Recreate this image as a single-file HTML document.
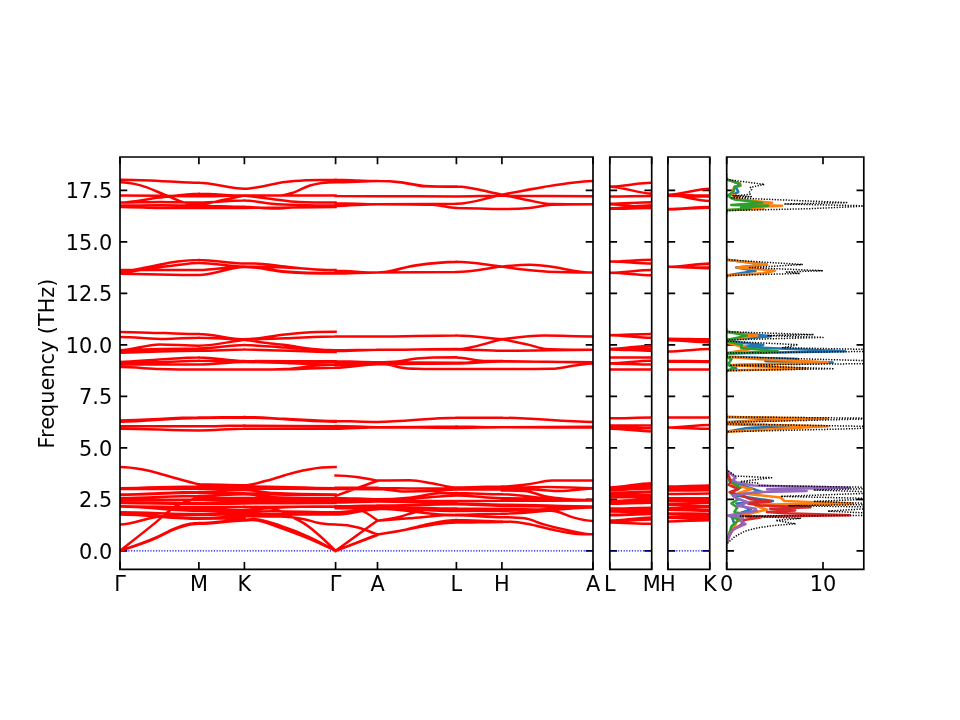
<!DOCTYPE html>
<html lang="en"><head><meta charset="utf-8"><title>Phonon band structure</title>
<style>html,body{margin:0;padding:0;background:#fff}svg{display:block}</style></head>
<body>
<svg width="960" height="720" viewBox="0 0 960 720">
<defs>
<clipPath id="c1"><rect x="120.0" y="157.0" width="473.0" height="412.4"/></clipPath>
<clipPath id="c2"><rect x="609.8" y="157.0" width="41.90000000000009" height="412.4"/></clipPath>
<clipPath id="c3"><rect x="667.9" y="157.0" width="41.85000000000002" height="412.4"/></clipPath>
<clipPath id="c4"><rect x="726.7" y="157.0" width="137.0999999999999" height="412.4"/></clipPath>
</defs>
<rect width="960" height="720" fill="#fff"/>
<path d="M120.0 550.8h7.3M593.0 550.8h-7.3M120.0 499.3h7.3M593.0 499.3h-7.3M120.0 447.8h7.3M593.0 447.8h-7.3M120.0 396.3h7.3M593.0 396.3h-7.3M120.0 344.9h7.3M593.0 344.9h-7.3M120.0 293.4h7.3M593.0 293.4h-7.3M120.0 241.9h7.3M593.0 241.9h-7.3M120.0 190.4h7.3M593.0 190.4h-7.3M609.8 550.8h7.3M651.7 550.8h-7.3M609.8 499.3h7.3M651.7 499.3h-7.3M609.8 447.8h7.3M651.7 447.8h-7.3M609.8 396.3h7.3M651.7 396.3h-7.3M609.8 344.9h7.3M651.7 344.9h-7.3M609.8 293.4h7.3M651.7 293.4h-7.3M609.8 241.9h7.3M651.7 241.9h-7.3M609.8 190.4h7.3M651.7 190.4h-7.3M667.9 550.8h7.3M709.75 550.8h-7.3M667.9 499.3h7.3M709.75 499.3h-7.3M667.9 447.8h7.3M709.75 447.8h-7.3M667.9 396.3h7.3M709.75 396.3h-7.3M667.9 344.9h7.3M709.75 344.9h-7.3M667.9 293.4h7.3M709.75 293.4h-7.3M667.9 241.9h7.3M709.75 241.9h-7.3M667.9 190.4h7.3M709.75 190.4h-7.3M726.7 550.8h7.3M863.8 550.8h-7.3M726.7 499.3h7.3M863.8 499.3h-7.3M726.7 447.8h7.3M863.8 447.8h-7.3M726.7 396.3h7.3M863.8 396.3h-7.3M726.7 344.9h7.3M863.8 344.9h-7.3M726.7 293.4h7.3M863.8 293.4h-7.3M726.7 241.9h7.3M863.8 241.9h-7.3M726.7 190.4h7.3M863.8 190.4h-7.3M120 569.4v-7.3M120 157.0v7.3M198.9 569.4v-7.3M198.9 157.0v7.3M244.4 569.4v-7.3M244.4 157.0v7.3M335.6 569.4v-7.3M335.6 157.0v7.3M377.5 569.4v-7.3M377.5 157.0v7.3M456.4 569.4v-7.3M456.4 157.0v7.3M501.9 569.4v-7.3M501.9 157.0v7.3M593 569.4v-7.3M593 157.0v7.3M609.8 569.4v-7.3M609.8 157.0v7.3M651.7 569.4v-7.3M651.7 157.0v7.3M667.9 569.4v-7.3M667.9 157.0v7.3M709.8 569.4v-7.3M709.8 157.0v7.3M726.7 569.4v-7.3M726.7 157.0v7.3M823 569.4v-7.3M823 157.0v7.3" stroke="#000" stroke-width="1.67" fill="none"/>
<path d="M120.0 550.8H593.0M609.8 550.8H651.7M667.9 550.8H709.75" stroke="#0000ff" stroke-width="1.3" stroke-dasharray="1.2 1.56" fill="none"/>
<path clip-path="url(#c1)" d="M120 179.7C133.2 179.7 146.3 180.4 159.4 180.9C172.6 181.4 185.8 182.8 198.9 182.8M120 182.2C126.6 182.2 133.2 183.4 139.7 185.1C148.1 187.2 156.6 191.6 165 194.9C171 197.3 177.1 200.5 183.1 202.1C188.4 203.6 193.6 204.8 198.9 204.8M120 195.6C133.2 195.6 146.3 195.7 159.4 195.8C172.6 195.9 185.8 196.2 198.9 196.2M120 202.6C133.2 202.6 146.3 199.1 159.4 197.6C172.6 196.1 185.8 193.7 198.9 193.7M120 202.6C133.2 202.6 146.3 202.1 159.4 202.1C172.6 202.1 185.8 202.6 198.9 202.6M120 205.6C133.2 205.6 146.3 205.2 159.4 205.2C172.6 205.2 185.8 205.6 198.9 205.6M120 206.9C133.2 206.9 146.3 207.7 159.4 207.9C172.6 208.1 185.8 208.1 198.9 208.1M120 272.4C130.8 270.3 141.6 268.2 152.3 266.2C160.8 264.6 169.2 262.5 177.6 261.5C184.7 260.6 191.8 260 198.9 260M120 273.4C130.8 271.6 141.6 269.8 152.3 268.3C160.8 267 169.2 265.9 177.6 265C184.7 264.2 191.8 263.1 198.9 263.1M120 270.1C146.3 270.1 172.6 270.1 198.9 270.1M120 273.8C146.3 273.8 172.6 275 198.9 275M120 332.1C135 332.1 150 332.8 165 333.1C176.3 333.4 187.6 333.9 198.9 333.9M120 337C135 337 150 338.9 165 338.9C176.3 338.9 187.6 337.7 198.9 337.7M120 350.2C133.2 350.2 146.3 344.4 159.4 344.4C172.6 344.4 185.8 345.7 198.9 345.7M120 350.2C133.2 350.2 146.3 349.3 159.4 349C172.6 348.7 185.8 348.4 198.9 348.4M120 352.7C133.2 352.7 146.3 351.8 159.4 351.5C172.6 351.1 185.8 350.8 198.9 350.8M120 362C133.2 362 146.3 360.2 159.4 359.5C172.6 358.8 185.8 357.6 198.9 357.6M120 362.4C133.2 362.4 146.3 362.4 159.4 362.2C172.6 362 185.8 360.7 198.9 360.7M120 364.4C133.2 364.4 146.3 364.6 159.4 364.6C172.6 364.6 185.8 364.4 198.9 364.4M120 367.1C133.2 367.1 146.3 368.5 159.4 369C172.6 369.4 185.8 369.6 198.9 369.6M120 420.4C146.3 420.4 172.6 417.6 198.9 417.6M120 421.7C146.3 421.7 172.6 418 198.9 418M120 426.2C146.3 426.2 172.6 426.2 198.9 426.2M120 428.7C146.3 428.7 172.6 430.5 198.9 430.5M120 467C127.6 467 135.3 468.1 142.9 469.5C152.1 471.1 161.3 474.2 170.5 476.7C177.9 478.7 185.2 481.1 192.6 482.8C194.7 483.3 196.8 484.3 198.9 484.3M120 488.2C146.3 488.2 172.6 486.5 198.9 486.5M120 489C146.3 489 172.6 488.8 198.9 488.8M120 494.4C146.3 494.4 172.6 491.9 198.9 491.9M120 494.8C146.3 494.8 172.6 492.7 198.9 492.7M120 498.1C146.3 498.1 172.6 496 198.9 496M120 499.9C146.3 499.9 172.6 499.7 198.9 499.7M120 501.8C146.3 501.8 172.6 503 198.9 503M120 503C146.3 503 172.6 504.1 198.9 504.1M120 506.3C146.3 506.3 172.6 507.3 198.9 507.3M120 506.5C146.3 506.5 172.6 509.2 198.9 509.2M120 506.5C146.3 506.5 172.6 510.8 198.9 510.8M120 512.3C146.3 512.3 172.6 514.1 198.9 514.1M120 513.7C146.3 513.7 172.6 518.1 198.9 518.1M120 514.6C146.3 514.6 172.6 518.7 198.9 518.7M120 524.6C132.1 524.6 144.2 518.7 156.3 517C170.5 515.1 184.7 514.8 198.9 514.8M120 550.8C131.8 541.5 143.7 532.2 155.5 522.6C161.8 517.5 168.1 511.1 174.4 507.1C180.5 503.4 186.5 501 192.6 499.3C194.7 498.7 196.8 497.9 198.9 497.9M120 550.8C132.2 547 144.5 543.2 156.7 537.8C162.6 535.2 168.5 531.6 174.4 529.4C179.7 527.4 185 525.5 190.2 524.6C193.1 524.2 196 523.8 198.9 523.8M120 550.8C132.2 546.8 144.5 542.7 156.7 537.2C162.6 534.6 168.5 530.9 174.4 528.6C179.7 526.5 185 524.7 190.2 523.8C193.1 523.3 196 523 198.9 523M198.9 182.8C214.1 182.8 229.3 188.8 244.4 188.8M198.9 193.7C214.1 193.7 229.3 195.6 244.4 195.6M198.9 196.2C214.1 196.2 229.3 195.6 244.4 195.6M198.9 204.8C206.5 204.8 214.1 201.8 221.7 200.3C229.3 198.7 236.9 197.1 244.4 195.6M198.9 202.6C214.1 202.6 229.3 200.5 244.4 200.5M198.9 205.6C214.1 205.6 229.3 206.7 244.4 206.7M198.9 208.1C214.1 208.1 229.3 207.9 244.4 207.9M198.9 260C214.1 260 229.3 263.5 244.4 263.5M198.9 263.1C214.1 263.1 229.3 266.6 244.4 266.6M198.9 270.1C214.1 270.1 229.3 266.6 244.4 266.6M198.9 275C214.1 275 229.3 267 244.4 267M198.9 333.9C214.1 333.9 229.3 339.3 244.4 339.3M198.9 337.7C214.1 337.7 229.3 339.5 244.4 339.5M198.9 345.7C214.1 345.7 229.3 341.7 244.4 339.7M198.9 348.4C214.1 348.4 229.3 345.1 244.4 345.1M198.9 350.8C214.1 350.8 229.3 349.6 244.4 349.6M198.9 357.6C214.1 357.6 229.3 361.1 244.4 361.1M198.9 360.7C214.1 360.7 229.3 361.5 244.4 361.5M198.9 364.4C214.1 364.4 229.3 362 244.4 362M198.9 369.6C214.1 369.6 229.3 369.6 244.4 369.6M198.9 417.6C214.1 417.6 229.3 417.1 244.4 417.1M198.9 418C214.1 418 229.3 417.6 244.4 417.6M198.9 426.2C214.1 426.2 229.3 425.6 244.4 425.6M198.9 430.5C214.1 430.5 229.3 428.7 244.4 428.7M198.9 484.3C214.1 484.3 229.3 485.3 244.4 485.3M198.9 486.5C214.1 486.5 229.3 486.5 244.4 486.5M198.9 488.8C214.1 488.8 229.3 488.4 244.4 488.4M198.9 491.9C214.1 491.9 229.3 490 244.4 490M198.9 492.7C214.1 492.7 229.3 493.3 244.4 493.3M198.9 496C214.1 496 229.3 494.2 244.4 494.2M198.9 497.9C214.1 497.9 229.3 497.9 244.4 497.9M198.9 499.7C214.1 499.7 229.3 499.7 244.4 499.7M198.9 503C214.1 503 229.3 501.6 244.4 501.6M198.9 504.1C214.1 504.1 229.3 503.4 244.4 503.4M198.9 507.3C214.1 507.3 229.3 506.7 244.4 506.7M198.9 509.2C214.1 509.2 229.3 507.1 244.4 507.1M198.9 510.8C214.1 510.8 229.3 510 244.4 510M198.9 514.1C214.1 514.1 229.3 512.1 244.4 512.1M198.9 514.8C214.1 514.8 229.3 514.1 244.4 514.1M198.9 518.1C214.1 518.1 229.3 516.2 244.4 516.2M198.9 518.7C214.1 518.7 229.3 518.3 244.4 518.3M198.9 523C214.1 523 229.3 519.9 244.4 519.9M198.9 523.8C214.1 523.8 229.3 520.5 244.4 520.5M244.4 188.8C251.1 188.8 257.8 187 264.5 185.9C271.3 184.7 278.2 182.9 285 182C301.8 179.7 318.7 179.7 335.6 179.7M244.4 195.6C256.6 195.6 268.7 195.6 280.9 195.6C285.4 195.6 290 193.6 294.6 192.1C299.7 190.3 304.9 187.1 310 185.5C318.6 182.8 327.1 182.2 335.6 182.2M244.4 195.6C274.8 195.6 305.2 195.6 335.6 195.6M244.4 195.6C253.6 196.8 262.7 198 271.8 199.1C280.9 200.2 290 201.8 299.1 202.1C311.3 202.6 323.4 202.6 335.6 202.6M244.4 200.5C253.6 200.5 262.7 203 271.8 203.8C293 205.6 314.3 205.6 335.6 205.6M244.4 206.7C253.6 206.7 262.7 208.5 271.8 208.5C280.9 208.5 290 207.3 299.1 206.9C311.3 206.3 323.4 205.6 335.6 205.6M244.4 207.9C274.8 207.9 305.2 206.9 335.6 206.9M244.4 263.5C250.5 263.5 256.6 263.5 262.7 263.9C270.3 264.4 277.9 265.8 285.4 266.6C302.2 268.3 318.9 270.1 335.6 270.1M244.4 266.6C258.1 266.6 271.8 266.9 285.4 267.4C302.2 268 318.9 270.3 335.6 270.3M244.4 266.6C258.1 266.6 271.8 270.4 285.4 271.5C302.2 272.9 318.9 273.2 335.6 273.2M244.4 267C258.1 267 271.8 270.8 285.4 272C302.2 273.3 318.9 273.6 335.6 273.6M244.4 339.3C258.1 339.3 271.8 335.6 285.4 334.4C296.1 333.4 306.7 332.5 317.3 332.1C323.4 331.8 329.5 331.7 335.6 331.7M244.4 339.5C258.1 339.5 271.8 338.7 285.4 338.3C302.2 337.7 318.9 336.4 335.6 336.4M244.4 339.7C250.5 340.6 256.6 341.6 262.7 342.4C270.3 343.4 277.9 344.1 285.4 345.1C294.6 346.2 303.7 348.1 312.8 349C320.4 349.7 328 350.2 335.6 350.2M244.4 345.1C258.1 345.1 271.8 346.8 285.4 347.5C302.2 348.5 318.9 350.2 335.6 350.2M244.4 349.6C274.8 349.6 305.2 352.1 335.6 352.1M244.4 361.1C274.8 361.1 305.2 361.3 335.6 361.3M244.4 361.5C274.8 361.5 305.2 361.7 335.6 361.7M244.4 362C274.8 362 305.2 364.4 335.6 364.4M244.4 369.6C258.1 369.6 271.8 369.6 285.4 369C296.1 368.5 306.7 366.3 317.3 365.5C323.4 365 329.5 364.4 335.6 364.4M244.4 369.6C259.6 369.6 274.8 369.5 290 369.2C305.2 368.9 320.4 367.7 335.6 367.7M244.4 417.1C258 417.1 271.5 418.2 285 418.8C301.8 419.5 318.7 421.1 335.6 421.1M244.4 417.6C258 417.6 271.5 418.6 285 419.2C301.8 420 318.7 421.7 335.6 421.7M244.4 425.6C274.8 425.6 305.2 426.2 335.6 426.2M244.4 428.7C274.8 428.7 305.2 428.7 335.6 428.7M244.4 485.3C251.7 485.3 259 482.6 266.3 480.8C275.7 478.5 285.1 474.8 294.6 472.5C303.7 470.4 312.8 468.4 321.9 467.6C326.4 467.2 331 467 335.6 467M244.4 486.5C274.8 486.5 305.2 488.2 335.6 488.2M244.4 488.4C274.8 488.4 305.2 489 335.6 489M244.4 497.9C274.8 497.9 305.2 498.1 335.6 498.1M244.4 499.7C274.8 499.7 305.2 499.9 335.6 499.9M244.4 501.6C274.8 501.6 305.2 501.8 335.6 501.8M244.4 503.4C274.8 503.4 305.2 503 335.6 503M244.4 507.1C274.8 507.1 305.2 506.3 335.6 506.3M244.4 514.1C274.8 514.1 305.2 514.6 335.6 514.6M244.4 490C254.5 490 264.5 492.5 274.5 493.1C294.9 494.4 315.2 494.4 335.6 494.4M244.4 493.3C254.5 493.3 264.5 494.2 274.5 494.4C294.9 494.8 315.2 494.8 335.6 494.8M244.4 494.2C254.5 494.2 264.5 496.8 274.5 497.3C294.9 498.1 315.2 498.1 335.6 498.1M244.4 510C253.6 510 262.7 508.5 271.8 508C293 506.7 314.3 506.5 335.6 506.5M244.4 512.1C253.6 512.1 262.7 511.3 271.8 511.3C293 511.3 314.3 512.3 335.6 512.3M244.4 516.2C256.6 516.2 268.7 516.2 280.9 516.6C288.2 516.9 295.5 517.6 302.8 518.9C309.1 520 315.5 522.7 321.9 523.6C326.4 524.3 331 524.6 335.6 524.6M244.4 506.7C253.6 506.7 262.7 506.7 271.8 508.6C275.4 509.3 279.1 510.5 282.7 512.1C285.8 513.4 288.8 515.4 291.8 517C295.5 518.9 299.1 520.4 302.8 522.6C313.7 529.1 324.6 540 335.6 550.8M244.4 520.5C247.2 520.5 249.9 519.9 252.6 519.9C262.1 519.9 271.5 525 280.9 528.1C290 531.2 299.1 534.7 308.2 538.4C317.3 542.2 326.4 546.5 335.6 550.8M244.4 519.9C247.2 519.9 249.9 518.9 252.6 518.9C262.1 518.9 271.5 522.9 280.9 525.9C290 528.8 299.1 532.4 308.2 536.6C317.3 540.7 326.4 545.8 335.6 550.8M335.6 179.7C349.5 179.7 363.5 181.1 377.5 181.1M335.6 182.2C349.5 182.2 363.5 181.1 377.5 181.1M335.6 196C349.5 196 363.5 196.2 377.5 196.2M335.6 203.2C349.5 203.2 363.5 204.2 377.5 204.2M335.6 205.9C349.5 205.9 363.5 204.2 377.5 204.2M335.6 270.7C349.5 270.7 363.5 272.6 377.5 272.6M335.6 273.6C349.5 273.6 363.5 272.6 377.5 272.6M335.6 336.4C349.5 336.4 363.5 336.4 377.5 336.4M335.6 350.2C349.5 350.2 363.5 349.8 377.5 349.8M335.6 351C349.5 351 363.5 349.8 377.5 349.8M335.6 361.3C349.5 361.3 363.5 362.2 377.5 362.2M335.6 362.8C349.5 362.8 363.5 362.2 377.5 362.2M335.6 365C349.5 365 363.5 364.2 377.5 364.2M335.6 367.7C349.5 367.7 363.5 364.2 377.5 364.2M335.6 421.1C349.5 421.1 363.5 421.9 377.5 421.9M335.6 426C349.5 426 363.5 427.2 377.5 427.2M335.6 428.7C349.5 428.7 363.5 427.2 377.5 427.2M335.6 475.6C342.5 475.6 349.5 476.2 356.5 477.1C363.5 477.9 370.5 479.4 377.5 480.8M335.6 496C349.5 490.9 363.5 485.9 377.5 480.8M335.6 487.8C349.5 487.8 363.5 487.8 377.5 487.8M335.6 489C349.5 489 363.5 489.2 377.5 489.2M335.6 497.9C349.5 497.9 363.5 499.3 377.5 499.3M335.6 499.7C349.5 499.7 363.5 499.9 377.5 499.9M335.6 501.4C349.5 501.4 363.5 500.6 377.5 500.6M335.6 502.6C349.5 502.6 363.5 501.4 377.5 501.4M335.6 506.3C349.5 506.3 363.5 505.5 377.5 505.5M335.6 507.6C349.5 507.6 363.5 506.9 377.5 506.9M335.6 508.2C349.5 508.2 363.5 508 377.5 508M335.6 512.3C349.5 512.3 363.5 508.8 377.5 508.8M335.6 514.6C349.5 514.6 363.5 509.2 377.5 509.2M335.6 507.6C343.4 507.6 351.2 507.6 359 509.6C365.2 511.2 371.3 515.9 377.5 520.5M335.6 524.6C343.4 524.6 351.2 525.6 359 527.7C365.2 529.4 371.3 532.1 377.5 534.7M335.6 550.8C349.5 540.7 363.5 530.6 377.5 520.5M335.6 550.8C349.5 545.6 363.5 540.4 377.5 535.1M335.6 550.8C349.5 545.3 363.5 539.8 377.5 534.3M377.5 181.1C385.3 181.1 393.2 181.4 401.1 182.2C409 183 416.9 185.4 424.8 185.9C435.3 186.5 445.8 186.5 456.4 186.5M377.5 181.1C385.3 181.1 393.2 181.5 401.1 182.4C409 183.2 416.9 186 424.8 186.3C435.3 186.7 445.8 186.7 456.4 186.7M377.5 196.2C403.8 196.2 430.1 196.4 456.4 196.4M377.5 204.2C395.9 204.2 414.3 204.1 432.7 204C440.6 203.9 448.5 203.8 456.4 203.8M377.5 204.2C395.9 204.2 414.3 204.2 432.7 204.8C440.6 205.1 448.5 207.9 456.4 207.9M377.5 272.6C389.8 272.6 402.2 267.2 414.5 265.4C428.5 263.4 442.4 261.7 456.4 261.7M377.5 272.6C389.8 272.6 402.2 267.5 414.5 265.8C428.5 263.8 442.4 262.1 456.4 262.1M377.5 272.6C403.8 272.6 430.1 272 456.4 272M377.5 336.4C403.8 336.4 430.1 335.4 456.4 335.4M377.5 349.8C403.8 349.8 430.1 349 456.4 349M377.5 349.8C403.8 349.8 430.1 349.4 456.4 349.4M377.5 362.2C384 362.2 390.6 362.2 397.2 361.5C403.8 360.9 410.3 359.1 416.9 358.5C430.1 357.2 443.2 357.2 456.4 357.2M377.5 362.2C403.8 362.2 430.1 362.8 456.4 362.8M377.5 363.4C381.4 363.4 385.3 364.1 389.3 364.8C393 365.5 396.7 366.9 400.3 367.5C405.9 368.5 411.4 368.7 416.9 368.7C430.1 369 443.2 369 456.4 369M377.5 364.2C403.8 364.2 430.1 363.4 456.4 363.4M377.5 421.9C403.8 421.9 430.1 417.8 456.4 417.8M377.5 427.2C403.8 427.2 430.1 426.6 456.4 426.6M377.5 427.2C403.8 427.2 430.1 427.9 456.4 427.9M377.5 480.6C388.2 480.4 399 480.2 409.8 480.2C417.2 480.2 424.5 482.1 431.9 483.3C440.1 484.5 448.2 487.4 456.4 487.4M377.5 488C390.6 488 403.8 488.4 416.9 488.4C430.1 488.4 443.2 488.4 456.4 488.4M377.5 489C386.7 489 395.9 491.5 405.1 491.5C414.3 491.5 423.5 491.4 432.7 491.1C440.6 490.8 448.5 489.6 456.4 489.6M377.5 499.3C388 499.3 398.5 498.7 409 497.7C419 496.7 429 493.7 439 493.3C444.8 493.1 450.6 493.1 456.4 493.1M377.5 499.9C390.6 499.9 403.8 499 416.9 498.3C430.1 497.5 443.2 495.4 456.4 495.4M377.5 500.6C403.8 500.6 430.1 501 456.4 501M377.5 501.4C403.8 501.4 430.1 503.4 456.4 503.4M377.5 505.5C403.8 505.5 430.1 504.3 456.4 504.3M377.5 506.9C403.8 506.9 430.1 508.6 456.4 508.6M377.5 508C403.8 508 430.1 511.1 456.4 511.1M377.5 508.8C403.8 508.8 430.1 515.2 456.4 515.2M377.5 520.7C385.1 519.7 392.7 518.6 400.3 516.6C404.5 515.5 408.8 513.8 413 512.7C416.9 511.6 420.9 510.6 424.8 510C435.3 508.6 445.8 508.6 456.4 508.6M377.5 520.7C388 519.9 398.5 519.1 409 518.3C424.8 517.1 440.6 514.8 456.4 514.8M377.5 534.5C385.1 533.4 392.7 532.4 400.3 530.8C408.5 529.2 416.6 526.6 424.8 524.9C432.2 523.3 439.5 521.6 446.9 520.7C450 520.4 453.2 519.9 456.4 519.9M377.5 534.5C385.1 533.4 392.7 532.2 400.3 530.8C408.5 529.4 416.6 527.4 424.8 526.1C435.3 524.4 445.8 522.6 456.4 522.6M456.4 186.5C471.5 186.5 486.7 192 501.9 194.7M456.4 196.4C471.5 196.4 486.7 195.8 501.9 195.8M456.4 203.8C471.5 203.8 486.7 197.8 501.9 194.7M456.4 207.9C471.5 207.9 486.7 209.1 501.9 209.1M456.4 261.7C471.5 261.7 486.7 265 501.9 266.6M456.4 272C471.5 272 486.7 268.4 501.9 266.6M456.4 335.4C471.5 335.4 486.7 338 501.9 339.3M456.4 349.2C471.5 349.2 486.7 342.6 501.9 339.3M456.4 349.4C471.5 349.4 486.7 350.8 501.9 350.8M456.4 357.4C465.5 357.4 474.6 360.6 483.7 360.9C489.8 361.1 495.8 361.1 501.9 361.1M456.4 362.8C471.5 362.8 486.7 361.1 501.9 361.1M456.4 369C471.5 369 486.7 369 501.9 369M456.4 363.4C471.5 363.4 486.7 361.5 501.9 361.5M456.4 417.8C471.5 417.8 486.7 417.8 501.9 417.8M456.4 426.6C471.5 426.6 486.7 427.2 501.9 427.2M456.4 427.9C471.5 427.9 486.7 427.2 501.9 427.2M456.4 487.4C471.5 487.4 486.7 486.5 501.9 486.5M456.4 488.4C471.5 488.4 486.7 487.8 501.9 487.8M456.4 489.6C471.5 489.6 486.7 489.4 501.9 489.4M456.4 493.1C471.5 493.1 486.7 494.2 501.9 494.2M456.4 495.4C471.5 495.4 486.7 498.3 501.9 498.3M456.4 501C471.5 501 486.7 500.8 501.9 500.8M456.4 503.4C471.5 503.4 486.7 504.7 501.9 504.7M456.4 504.3C471.5 504.3 486.7 505.9 501.9 505.9M456.4 508.6C471.5 508.6 486.7 509 501.9 509M456.4 511.1C471.5 511.1 486.7 510.8 501.9 510.8M456.4 514.8C471.5 514.8 486.7 513.7 501.9 513.7M456.4 515.2C471.5 515.2 486.7 517.2 501.9 517.2M456.4 519.9C471.5 519.9 486.7 521.4 501.9 521.4M456.4 522.6C471.5 522.6 486.7 522 501.9 522M501.9 194.7C515.9 191.9 529.8 189.1 543.8 186.9C554.1 185.3 564.5 183.6 574.8 182.6C580.9 182 586.9 181.1 593 181.1M501.9 194.7C510.7 196.7 519.5 198.7 528.3 200.3C536.1 201.7 543.8 203.9 551.5 204C565.4 204.2 579.2 204.2 593 204.2M501.9 195.8C532.3 195.8 562.6 196.2 593 196.2M501.9 209.1C511 209.1 520.1 208.8 529.2 207.9C536.7 207.2 544.1 205.2 551.5 204.8C565.4 204.2 579.2 204.2 593 204.2M501.9 266.6C511.3 265.7 520.7 264.7 530.1 264.7C538.9 264.7 547.8 266 556.6 267.4C562 268.3 567.5 269.9 573 270.7C579.6 271.7 586.3 272.6 593 272.6M501.9 266.6C511.3 268 520.7 269.4 530.1 270.3C536.2 270.9 542.3 271.4 548.4 271.8C563.2 272.6 578.1 272.6 593 272.6M501.9 339.3C515.9 337.4 529.8 335.6 543.8 335.6C560.2 335.6 576.6 336.4 593 336.4M501.9 339.3C511 341 520.1 342.7 529.2 344.9C534.7 346.1 540.2 348.7 545.6 349C561.4 349.8 577.2 349.8 593 349.8M501.9 350.8C532.3 350.8 562.6 349.8 593 349.8M501.9 361.1C532.3 361.1 562.6 362.6 593 362.6M501.9 361.5C532.3 361.5 562.6 362.2 593 362.2M501.9 369C518.6 369 535.3 369 552 368.7C559.6 368.7 567.2 366.4 574.8 365.5C580.9 364.7 586.9 363.4 593 363.4M501.9 417.8C532.3 417.8 562.6 421.9 593 421.9M501.9 427.2C532.3 427.2 562.6 426.8 593 426.8M501.9 427.2C532.3 427.2 562.6 427.6 593 427.6M501.9 486.5C510.7 486.5 519.5 485.4 528.3 484.3C536.2 483.3 544.1 480.7 552 480.6C565.7 480.4 579.3 480.4 593 480.4M501.9 487.8C517.1 487.8 532.3 487 547.5 487C562.6 487 577.8 488.2 593 488.2M501.9 489.4C512.5 489.4 523.2 489.4 533.8 489.6C541.4 489.8 549 491.1 556.6 491.1C562.6 491.1 568.7 490.5 574.8 490C580.9 489.6 586.9 488.4 593 488.4M501.9 490.5C509.5 490.5 517.1 490.5 524.7 490.9C531.4 491.2 538 494.9 544.7 496.2C551.7 497.6 558.7 498.3 565.7 498.9C574.8 499.7 583.9 499.9 593 499.9M501.9 494.2C517.1 494.2 532.3 497.3 547.5 498.3C562.6 499.3 577.8 500.1 593 500.1M501.9 498.3C532.3 498.3 562.6 500.3 593 500.3M501.9 500.8C532.3 500.8 562.6 500.6 593 500.6M501.9 504.7C532.3 504.7 562.6 506.5 593 506.5M501.9 505.9C532.3 505.9 562.6 506.9 593 506.9M501.9 510.8C532.3 510.8 562.6 507.1 593 507.1M501.9 513.7C532.3 513.7 562.6 507.6 593 507.6M501.9 509C514 509 526.2 509.2 538.3 510C544.7 510.4 551.1 510.1 557.5 511.7C562.6 512.9 567.8 516 573 517.4C579.6 519.3 586.3 520.9 593 520.9M501.9 517.2C509.5 517.2 517.1 517.2 524.7 518.3C531.1 519.1 537.4 522.6 543.8 524.4C551.7 526.7 559.6 528.6 567.5 530.2C576 531.9 584.5 534.3 593 534.3M501.9 521.4C510.7 521.4 519.5 522.5 528.3 524C536.2 525.4 544.1 528 552 529.6C559.6 531.2 567.2 533 574.8 533.7C580.9 534.3 586.9 534.3 593 534.3" fill="none" stroke="#ff0000" stroke-width="2.5" stroke-linecap="square" stroke-linejoin="round"/>
<path clip-path="url(#c2)" d="M609.8 186.5C623.8 186.5 637.7 182.8 651.7 182.8M609.8 186.7C623.8 186.7 637.7 193.5 651.7 193.5M609.8 196.4C623.8 196.4 637.7 196 651.7 196M609.8 203.8C623.8 203.8 637.7 202.3 651.7 202.3M609.8 204.2C623.8 204.2 637.7 207.7 651.7 207.7M609.8 208.3C623.8 208.3 637.7 205.2 651.7 205.2M609.8 208.7C623.8 208.7 637.7 208.1 651.7 208.1M609.8 261.5C623.8 261.5 637.7 259.8 651.7 259.8M609.8 261.5C623.8 261.5 637.7 263.5 651.7 263.5M609.8 272.8C623.8 272.8 637.7 270.1 651.7 270.1M609.8 272.8C623.8 272.8 637.7 275.3 651.7 275.3M609.8 335.2C623.8 335.2 637.7 333.9 651.7 333.9M609.8 335.2C623.8 335.2 637.7 337.7 651.7 337.7M609.8 349C623.8 349 637.7 345.7 651.7 345.7M609.8 349C623.8 349 637.7 348.4 651.7 348.4M609.8 349.4C623.8 349.4 637.7 350.8 651.7 350.8M609.8 357.6C623.8 357.6 637.7 357.6 651.7 357.6M609.8 363.2C623.8 363.2 637.7 360.7 651.7 360.7M609.8 363.4C623.8 363.4 637.7 364.4 651.7 364.4M609.8 369.6C623.8 369.6 637.7 369.6 651.7 369.6M609.8 418.2C623.8 418.2 637.7 417.6 651.7 417.6M609.8 425.6C623.8 425.6 637.7 425.6 651.7 425.6M609.8 427.2C623.8 427.2 637.7 428.3 651.7 428.3M609.8 428.7C623.8 428.7 637.7 431.4 651.7 431.4M609.8 487.4C623.8 487.4 637.7 483.3 651.7 483.3M609.8 488C623.8 488 637.7 485.7 651.7 485.7M609.8 489.6C623.8 489.6 637.7 487.4 651.7 487.4M609.8 490.3C623.8 490.3 637.7 488.4 651.7 488.4M609.8 493.1C623.8 493.1 637.7 491.5 651.7 491.5M609.8 493.5C623.8 493.5 637.7 492.3 651.7 492.3M609.8 495.4C623.8 495.4 637.7 495.2 651.7 495.2M609.8 497.3C623.8 497.3 637.7 497.3 651.7 497.3M609.8 501C623.8 501 637.7 499.3 651.7 499.3M609.8 501.4C623.8 501.4 637.7 500.1 651.7 500.1M609.8 503.4C623.8 503.4 637.7 502.4 651.7 502.4M609.8 503.8C623.8 503.8 637.7 502.8 651.7 502.8M609.8 508.6C623.8 508.6 637.7 507.8 651.7 507.8M609.8 509C623.8 509 637.7 509.2 651.7 509.2M609.8 511.1C623.8 511.1 637.7 511.3 651.7 511.3M609.8 511.5C623.8 511.5 637.7 512.1 651.7 512.1M609.8 514.8C623.8 514.8 637.7 513.7 651.7 513.7M609.8 515.2C623.8 515.2 637.7 514.1 651.7 514.1M609.8 520.5C623.8 520.5 637.7 517.4 651.7 517.4M609.8 521.6C623.8 521.6 637.7 519.5 651.7 519.5M609.8 522.6C623.8 522.6 637.7 523.8 651.7 523.8" fill="none" stroke="#ff0000" stroke-width="2.5" stroke-linecap="square"/>
<path clip-path="url(#c3)" d="M667.9 194.7C681.9 194.7 695.8 188.8 709.8 188.8M667.9 194.9C681.9 194.9 695.8 195.6 709.8 195.6M667.9 195.8C681.9 195.8 695.8 196.6 709.8 196.6M667.9 195.1C681.9 195.1 695.8 200.9 709.8 200.9M667.9 209.1C681.9 209.1 695.8 206.9 709.8 206.9M667.9 209.4C681.9 209.4 695.8 207.7 709.8 207.7M667.9 266.8C681.9 266.8 695.8 263.5 709.8 263.5M667.9 266.8C681.9 266.8 695.8 264.1 709.8 264.1M667.9 266.8C681.9 266.8 695.8 267.6 709.8 267.6M667.9 266.8C681.9 266.8 695.8 268.3 709.8 268.3M667.9 338.7C681.9 338.7 695.8 339.3 709.8 339.3M667.9 339.3C681.9 339.3 695.8 340.7 709.8 340.7M667.9 340.3C681.9 340.3 695.8 342.4 709.8 342.4M667.9 351.5C681.9 351.5 695.8 349 709.8 349M667.9 361.7C681.9 361.7 695.8 362 709.8 362M667.9 360.9C681.9 360.9 695.8 361.3 709.8 361.3M667.9 369.6C681.9 369.6 695.8 369.6 709.8 369.6M667.9 417.6C681.9 417.6 695.8 417.6 709.8 417.6M667.9 427.6C681.9 427.6 695.8 425 709.8 425M667.9 427.6C681.9 427.6 695.8 428.7 709.8 428.7M667.9 486.5C681.9 486.5 695.8 485.5 709.8 485.5M667.9 487.8C681.9 487.8 695.8 487 709.8 487M667.9 489C681.9 489 695.8 488.6 709.8 488.6M667.9 490.5C681.9 490.5 695.8 490.3 709.8 490.3M667.9 494C681.9 494 695.8 493.5 709.8 493.5M667.9 498.3C681.9 498.3 695.8 498.3 709.8 498.3M667.9 499.3C681.9 499.3 695.8 499.7 709.8 499.7M667.9 500.8C681.9 500.8 695.8 501.4 709.8 501.4M667.9 503.8C681.9 503.8 695.8 503 709.8 503M667.9 505.1C681.9 505.1 695.8 506.3 709.8 506.3M667.9 508.2C681.9 508.2 695.8 507.1 709.8 507.1M667.9 509C681.9 509 695.8 510 709.8 510M667.9 509.8C681.9 509.8 695.8 510.8 709.8 510.8M667.9 513.5C681.9 513.5 695.8 513.7 709.8 513.7M667.9 513.9C681.9 513.9 695.8 515.4 709.8 515.4M667.9 517C681.9 517 695.8 517 709.8 517M667.9 517.8C681.9 517.8 695.8 518.7 709.8 518.7M667.9 521.4C681.9 521.4 695.8 520.3 709.8 520.3" fill="none" stroke="#ff0000" stroke-width="2.5" stroke-linecap="square"/>
<g clip-path="url(#c4)" fill="none" stroke-linejoin="round">
<path d="M726.7 179.5L728.2 179.9L738.3 183.6L738.3 185.7L734.4 186.9L736.8 188.8L738.3 192.1L734.9 193.7L729.6 194.5L726.7 196.6M726.7 259.8L766.7 264.5L736.3 267.6L755.6 270.7L726.7 275.5M726.7 331.7L771 336.2L726.7 339.9L726.7 341.2L763.3 344.9L741.1 346.9L845.1 351.2L726.7 353.5L726.7 356.8L798 359.1L765.2 360.9L832.6 362.6L728.6 365.2L736.3 368.5L726.7 370.6M726.7 416.9L789.3 418.4L726.7 422.3L726.7 423.9L790.3 426.6L746 428.3L726.7 431.8M726.7 470.5L729.6 480.8L762.3 492.1L734.4 495.2L772.9 501L736.3 503.4L750.8 509.6L731.5 515.8L734.4 524L726.7 542.6" stroke="#1f77b4" stroke-width="2.5"/>
<path d="M726.7 179.5L728.2 179.9L740.2 183.6L740.7 185.7L734.4 186.9L732.5 191.2L731.5 194.5L738.7 196.8L731.5 198.6L772 202.8L741.1 204.8L782 205.7L750.8 207.5L763.7 208.7L728.2 210L726.7 211M726.7 259.8L767.1 264.5L737.3 267.6L774.9 270.7L763.3 273.2L726.7 275.5M726.7 331.7L757.5 335.6L726.7 339.9L726.7 342.8L750.8 349L726.7 353.1L726.7 356.8L760.4 359.3L827.8 362.2L729.6 365.2L805.7 368.5L726.7 370.6M726.7 416.9L827.8 418.4L726.7 422.3L726.7 423.9L827.8 426.2L789.3 428.3L726.7 431.8M726.7 470.5L730.6 480.8L732.5 484.9L751.7 489L738.3 493.1L780.6 497.5L784.5 501L813.4 502.2L852.9 503.4L763.3 504.5L755.6 505.9L767.1 509.6L741.1 515.8L736.3 522L735.4 525.1L729.6 532.3L726.7 542.6" stroke="#ff7f0e" stroke-width="2.5"/>
<path d="M726.7 179.5L728.2 179.9L739.5 183.6L739.8 185.7L734.4 186.9L733.7 191.2L729.6 194.5L729.6 197L734.4 199.5L762 202.8L731.2 205L767.8 205.7L741.1 207.5L750.4 208.7L728.2 210L726.7 211M726.7 331.7L746.9 335.6L726.7 339.9L726.7 341.2L742.1 344.9L741.1 347.9L777.7 351.2L726.7 353.5L726.7 356.8L731.5 359.3L728.6 363.4L733.4 368.5L726.7 370.6M726.7 470.5L729.6 480.8L740.2 488L730.6 493.1L738.3 499.3L731.5 503.4L737.3 507.6L734.4 511.7L741.1 513.7L729.6 516L739.2 519.9L731.5 526.1L726.7 542.6" stroke="#2ca02c" stroke-width="2.5"/>
<path d="M726.7 470.5L729.6 478.7L731.5 480.8L728.6 484.9L738.3 489L729.6 492.1L741.1 495.2L750.8 499.3L771 501.6L747.9 503.4L760.4 505.5L810.5 507.3L770 508.8L795.1 510.4L767.1 512.1L784.5 513.3L850 515.2L746 516.6L760.4 517.6L744 519.9L742.1 524L732.5 530.2L727.7 538.4L726.7 542.6" stroke="#d62728" stroke-width="2.5"/>
<path d="M726.7 469.5L727.2 470.9L735.6 477.7L732.5 480.2L736.3 482.2L753.3 485.5L850 487.8L767.1 489.2L806.6 490.9L755.6 492.3L732.5 495.4L736.3 498.3L747.9 502.2L737.3 505.7L755.6 508.8L756.6 510.8L743.1 513.1L728.2 515.6L743.1 517.6L740.2 520.9L745.5 524L733.9 529L729.6 534.3L727.2 540.5L726.7 543.6" stroke="#9467bd" stroke-width="2.5"/>
<path d="M726.7 173.9L726.7 179.5L764.5 184.4L750.4 187.3L751.7 189.4L749.5 192.1L750.3 194.1L745.4 194.9L732.9 195.8L751.2 196.6L731.5 197.8L846.6 202.6L784.1 204L870.2 205.9L809 208.7L726.7 210.6L726.7 215.1M726.7 256.3L726.7 259.8L802.8 264.5L749.8 267.6L823 270.7L785.4 272L799.9 273.4L726.7 275.5L726.7 279M726.7 328.4L726.7 331.7L813.8 334.6L767.1 335.6L823 337.4L726.7 339.9L726.7 341.2L798 344.7L782.6 347.7L876 349.6L885.6 351.2L726.7 353.1L726.7 356.8L798 358.7L876 360.9L885.6 363.4L729.6 365.2L834.1 368.7L726.7 370.6L726.7 373.7M726.7 413.8L726.7 416.9L890.4 418.4L726.7 422.3L726.7 423.9L890.4 426.8L852.9 428.7L726.7 431.8L726.7 435.5M726.7 466.4L726.7 469.9L735.7 476L771.6 477.7L740.2 481.6L757.5 483L759.4 485.5L900 487.8L813.4 490L890.4 492.5L780.6 496.4L880.8 498.7L813.4 501.4L890.4 504.3L788.3 505.7L890.4 507.3L827.8 511.1L909.7 515.2L740.2 516L800.9 518.3L775.8 520.5L795.7 523.8L773.9 525.5L757.3 527.9L744.8 531.2L734.8 536.6L728.1 542.6L726.7 544.6L726.7 561.1" stroke="#000" stroke-width="1.5" stroke-dasharray="1.25 1.5"/>
</g>
<path d="M120.0 157.0H593.0V569.4H120.0ZM609.8 157.0H651.7V569.4H609.8ZM667.9 157.0H709.75V569.4H667.9ZM726.7 157.0H863.8V569.4H726.7Z" stroke="#000" stroke-width="1.67" fill="none" stroke-linejoin="miter"/>
<g font-family="'DejaVu Sans', 'Liberation Sans', sans-serif" font-size="20.83px" fill="#000">
<text x="112.2" y="558.7" text-anchor="end">0.0</text>
<text x="112.2" y="507.2" text-anchor="end">2.5</text>
<text x="112.2" y="455.7" text-anchor="end">5.0</text>
<text x="112.2" y="404.2" text-anchor="end">7.5</text>
<text x="112.2" y="352.8" text-anchor="end">10.0</text>
<text x="112.2" y="301.3" text-anchor="end">12.5</text>
<text x="112.2" y="249.8" text-anchor="end">15.0</text>
<text x="112.2" y="198.3" text-anchor="end">17.5</text>
<text x="120" y="590.8" text-anchor="middle">Γ</text>
<text x="198.9" y="590.8" text-anchor="middle">M</text>
<text x="244.4" y="590.8" text-anchor="middle">K</text>
<text x="335.6" y="590.8" text-anchor="middle">Γ</text>
<text x="377.5" y="590.8" text-anchor="middle">A</text>
<text x="456.4" y="590.8" text-anchor="middle">L</text>
<text x="501.9" y="590.8" text-anchor="middle">H</text>
<text x="593" y="590.8" text-anchor="middle">A</text>
<text x="609.8" y="590.8" text-anchor="middle">L</text>
<text x="651.7" y="590.8" text-anchor="middle">M</text>
<text x="667.9" y="590.8" text-anchor="middle">H</text>
<text x="709.8" y="590.8" text-anchor="middle">K</text>
<text x="726.7" y="590.8" text-anchor="middle">0</text>
<text x="823" y="590.8" text-anchor="middle">10</text>
<text transform="translate(53.5 363.5) rotate(-90)" text-anchor="middle">Frequency (THz)</text>
</g>
</svg>
</body></html>
